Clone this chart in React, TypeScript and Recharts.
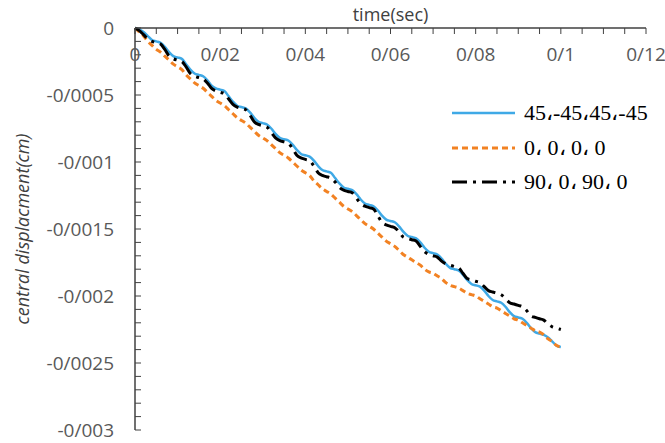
import { LineChart, Line, XAxis, YAxis } from 'recharts';

// time (sec)
const time = [
  0, 0.001, 0.002, 0.003, 0.004, 0.005, 0.006, 0.007, 0.008, 0.009,
  0.01, 0.011, 0.012, 0.013, 0.014, 0.015, 0.016, 0.017, 0.018, 0.019,
  0.02, 0.021, 0.022, 0.023, 0.024, 0.025, 0.026, 0.027, 0.028, 0.029,
  0.03, 0.031, 0.032, 0.033, 0.034, 0.035, 0.036, 0.037, 0.038, 0.039,
  0.04, 0.041, 0.042, 0.043, 0.044, 0.045, 0.046, 0.047, 0.048, 0.049,
  0.05, 0.051, 0.052, 0.053, 0.054, 0.055, 0.056, 0.057, 0.058, 0.059,
  0.06, 0.061, 0.062, 0.063, 0.064, 0.065, 0.066, 0.067, 0.068, 0.069,
  0.07, 0.071, 0.072, 0.073, 0.074, 0.075, 0.076, 0.077, 0.078, 0.079,
  0.08, 0.081, 0.082, 0.083, 0.084, 0.085, 0.086, 0.087, 0.088, 0.089,
  0.09, 0.091, 0.092, 0.093, 0.094, 0.095, 0.096, 0.097, 0.098, 0.099,
  0.1,
];

// 45,-45,45,-45
const angle45 = [
  0, -0.00001, -0.00003, -0.00006, -0.00009,
  -0.0001, -0.00011, -0.00014, -0.00018, -0.00021,
  -0.00022, -0.00023, -0.00027, -0.00031, -0.00034,
  -0.00035, -0.00036, -0.00039, -0.00043, -0.00045,
  -0.00046, -0.00047, -0.00051, -0.00055, -0.00058,
  -0.00059, -0.0006, -0.00063, -0.00067, -0.0007,
  -0.00071, -0.00072, -0.00075, -0.00079, -0.00082,
  -0.00083, -0.00084, -0.00087, -0.00091, -0.00094,
  -0.00095, -0.00096, -0.00099, -0.00103, -0.00106,
  -0.00107, -0.00108, -0.00112, -0.00116, -0.00119,
  -0.0012, -0.00121, -0.00124, -0.00128, -0.00131,
  -0.00132, -0.00133, -0.00136, -0.0014, -0.00143,
  -0.00144, -0.00145, -0.00148, -0.00152, -0.00155,
  -0.00156, -0.00157, -0.0016, -0.00164, -0.00167,
  -0.00168, -0.00169, -0.00172, -0.00176, -0.00179,
  -0.0018, -0.00181, -0.00184, -0.00188, -0.00191,
  -0.00192, -0.00193, -0.00196, -0.002, -0.00203,
  -0.00204, -0.00205, -0.00208, -0.00212, -0.00215,
  -0.00216, -0.00217, -0.0022, -0.00224, -0.00227,
  -0.00228, -0.00229, -0.00231, -0.00234, -0.00237,
  -0.00238,
];

// 0, 0, 0, 0
const angle0 = [
  0, -0.00003, -0.00006, -0.0001, -0.00013,
  -0.00016, -0.00018, -0.00021, -0.00024, -0.00027,
  -0.00029, -0.00031, -0.00035, -0.00038, -0.00041,
  -0.00043, -0.00045, -0.00048, -0.00051, -0.00054,
  -0.00056, -0.00058, -0.00061, -0.00064, -0.00067,
  -0.00069, -0.00071, -0.00074, -0.00077, -0.0008,
  -0.00082, -0.00084, -0.00087, -0.0009, -0.00093,
  -0.00095, -0.00097, -0.001, -0.00103, -0.00106,
  -0.00108, -0.0011, -0.00114, -0.00117, -0.0012,
  -0.00122, -0.00124, -0.00127, -0.0013, -0.00133,
  -0.00135, -0.00137, -0.0014, -0.00143, -0.00146,
  -0.00148, -0.0015, -0.00153, -0.00156, -0.00159,
  -0.00161, -0.00163, -0.00166, -0.00169, -0.00171,
  -0.00173, -0.00175, -0.00177, -0.0018, -0.00182,
  -0.00183, -0.00185, -0.00187, -0.0019, -0.00192,
  -0.00193, -0.00194, -0.00196, -0.00198, -0.00199,
  -0.002, -0.00202, -0.00204, -0.00206, -0.00208,
  -0.00209, -0.00211, -0.00213, -0.00215, -0.00217,
  -0.00218, -0.0022, -0.00222, -0.00224, -0.00226,
  -0.00227, -0.00229, -0.00232, -0.00234, -0.00237,
  -0.00238,
];

// 90, 0, 90, 0
const angle90 = [
  0, -0.00002, -0.00005, -0.00008, -0.0001,
  -0.00011, -0.00012, -0.00016, -0.00021, -0.00023,
  -0.00024, -0.00025, -0.00029, -0.00034, -0.00036,
  -0.00037, -0.00038, -0.00041, -0.00045, -0.00047,
  -0.00048, -0.00049, -0.00053, -0.00057, -0.00059,
  -0.0006, -0.00061, -0.00065, -0.0007, -0.00072,
  -0.00073, -0.00074, -0.00078, -0.00082, -0.00084,
  -0.00085, -0.00086, -0.0009, -0.00095, -0.00097,
  -0.00098, -0.00099, -0.00103, -0.00108, -0.0011,
  -0.00111, -0.00112, -0.00115, -0.00119, -0.00121,
  -0.00122, -0.00123, -0.00127, -0.00131, -0.00133,
  -0.00134, -0.00135, -0.0014, -0.00145, -0.00147,
  -0.00148, -0.00149, -0.00152, -0.00156, -0.00157,
  -0.00158, -0.00159, -0.00163, -0.00167, -0.00169,
  -0.0017, -0.00171, -0.00174, -0.00176, -0.00177,
  -0.00178, -0.00179, -0.00183, -0.00187, -0.00188,
  -0.00189, -0.0019, -0.00193, -0.00196, -0.00197,
  -0.00198, -0.00199, -0.00202, -0.00205, -0.00206,
  -0.00207, -0.00208, -0.00211, -0.00215, -0.00216,
  -0.00217, -0.00218, -0.00221, -0.00223, -0.00224,
  -0.00225,
];

const xTicks = [
  0, 0.005, 0.01, 0.015, 0.02, 0.025, 0.03, 0.035, 0.04, 0.045, 0.05, 0.055,
  0.06, 0.065, 0.07, 0.075, 0.08, 0.085, 0.09, 0.095, 0.1, 0.105, 0.11, 0.115, 0.12,
];
const yTicks = [
  0, -0.0001, -0.0002, -0.0003, -0.0004, -0.0005, -0.0006, -0.0007, -0.0008, -0.0009,
  -0.001, -0.0011, -0.0012, -0.0013, -0.0014, -0.0015, -0.0016, -0.0017, -0.0018, -0.0019,
  -0.002, -0.0021, -0.0022, -0.0023, -0.0024, -0.0025, -0.0026, -0.0027, -0.0028, -0.0029,
  -0.003,
];

const series = [
  { key: 'a45', name: '45،-45،45،-45', color: '#3FA9E6', width: 2.5, dash: undefined },
  { key: 'a0', name: '0، 0، 0، 0', color: '#F28223', width: 3, dash: '6 4' },
  { key: 'a90', name: '90، 0، 90، 0', color: '#000000', width: 3, dash: '15 6 3 6' },
];

const rows = time.map((t, i) => ({ t, a45: angle45[i], a0: angle0[i], a90: angle90[i] }));

// Persian decimal separator
const fmt = (v: number) => {
  if (Math.abs(v) < 1e-12) return '0';
  return parseFloat(v.toFixed(4)).toString().replace('.', '/');
};
const isStep = (v: number, per: number) => Math.abs(v / per - Math.round(v / per)) < 1e-6;

const axisColor = '#404040';
const labelFont = { fill: '#595959', fontSize: 19, fontFamily: 'Open Sans' };

function XTitle(props: any) {
  const vb = props.viewBox || { x: 135, y: 0, width: 511, height: 28 };
  return (
    <text
      x={vb.x + vb.width / 2}
      y={vb.y + vb.height - 7}
      textAnchor="middle"
      fill="#404040"
      fontSize={18}
      fontFamily="Open Sans"
    >
      time(sec)
    </text>
  );
}

function YTitle(props: any) {
  const vb = props.viewBox || { x: 0, y: 28, height: 402 };
  const cx = vb.x + 22;
  const cy = vb.y + vb.height / 2;
  return (
    <text
      x={cx}
      y={cy}
      transform={`rotate(-90 ${cx} ${cy})`}
      textAnchor="middle"
      dominantBaseline="central"
      fill="#404040"
      fontSize={18}
      fontStyle="italic"
      fontFamily="Open Sans"
    >
      central displacment(cm)
    </text>
  );
}

export default function App() {
  return (
    <div style={{ position: 'absolute', left: 0, top: 0, width: 665, height: 443, background: '#fff' }}>
      <LineChart width={665} height={443} data={rows} margin={{ top: 0, right: 19, bottom: 13, left: 0 }}>
        <XAxis
          type="number"
          dataKey="t"
          orientation="top"
          domain={[0, 0.12]}
          ticks={xTicks}
          interval={0}
          height={28}
          tickFormatter={(v: number) => (isStep(v, 0.02) ? fmt(v) : '')}
          tickSize={-6}
          tickMargin={-27}
          axisLine={{ stroke: axisColor, strokeWidth: 1.5 }}
          tickLine={{ stroke: axisColor }}
          tick={labelFont}
          label={<XTitle />}
        />
        <YAxis
          type="number"
          domain={[-0.003, 0]}
          ticks={yTicks}
          interval={0}
          width={135}
          tickFormatter={(v: number) => (isStep(v, 0.0005) ? fmt(v) : '')}
          tickSize={-6}
          tickMargin={27}
          axisLine={{ stroke: axisColor, strokeWidth: 1.5 }}
          tickLine={{ stroke: axisColor }}
          tick={labelFont}
          label={<YTitle />}
        />
        {series.map((s) => (
          <Line
            key={s.key}
            type="monotone"
            dataKey={s.key}
            name={s.name}
            stroke={s.color}
            strokeWidth={s.width}
            strokeDasharray={s.dash}
            dot={false}
            activeDot={false}
            isAnimationActive={false}
          />
        ))}
      </LineChart>
      <div style={{ position: 'absolute', left: 452, top: 96 }}>
        {series.map((s) => (
          <div key={s.key} style={{ display: 'flex', alignItems: 'center', height: 34.5 }}>
            <svg width={64} height={10} style={{ marginRight: 8 }}>
              <line x1={0} y1={5} x2={63} y2={5} stroke={s.color} strokeWidth={s.width} strokeDasharray={s.dash} />
            </svg>
            <span style={{ fontFamily: 'Liberation Serif', fontSize: 22, color: '#000', whiteSpace: 'nowrap' }}>
              {s.name}
            </span>
          </div>
        ))}
      </div>
    </div>
  );
}
